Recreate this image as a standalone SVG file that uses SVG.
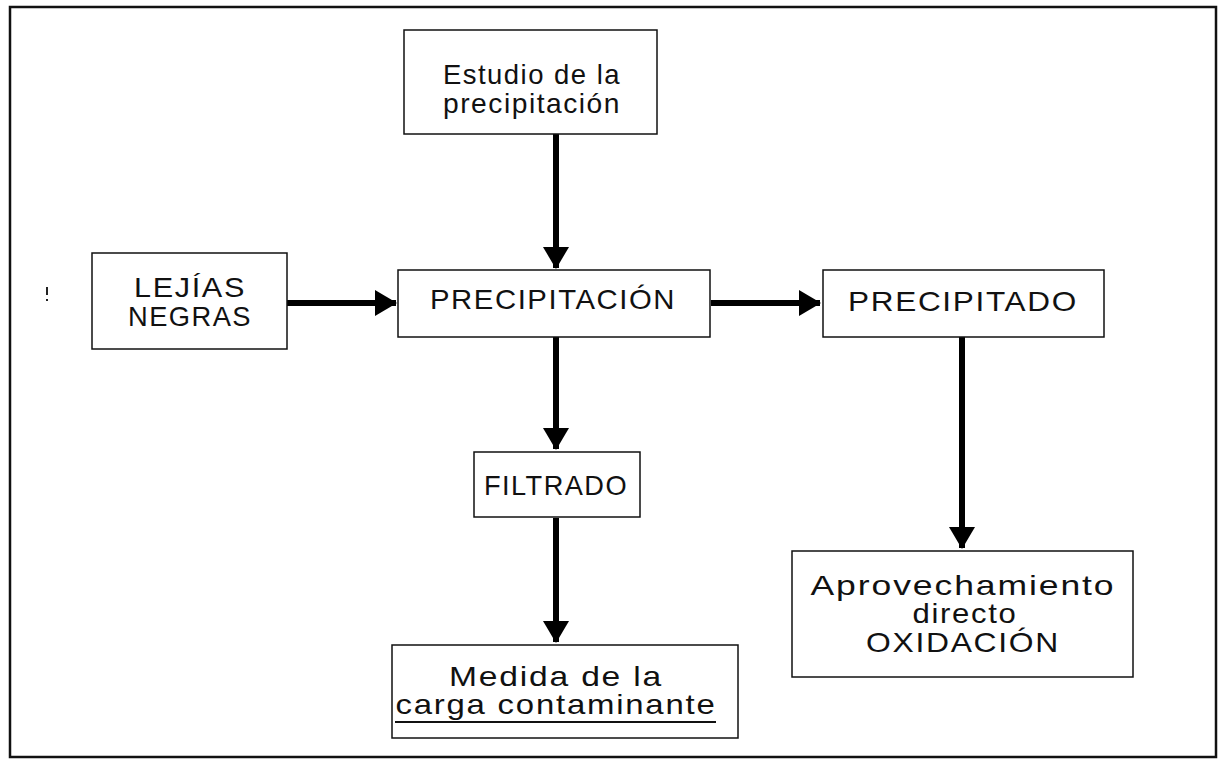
<svg xmlns="http://www.w3.org/2000/svg" width="1220" height="765" viewBox="0 0 1220 765">
<style>
.box{fill:#fff;stroke:#111;stroke-width:1.5}
.t{font-family:"Liberation Sans",Arial,sans-serif;font-size:28px;fill:#111;text-anchor:middle;letter-spacing:1.5px}
.conn{stroke:#000;stroke-width:6;fill:none}
</style>
<defs>
<marker id="ah" markerUnits="userSpaceOnUse" markerWidth="22" markerHeight="26" refX="21" refY="13" orient="auto">
<path d="M0,0 L22,13 L0,26 Z" fill="#000"/>
</marker>
</defs>
<rect x="0" y="0" width="1220" height="765" fill="#fff"/>
<rect x="10" y="7" width="1206" height="750" fill="none" stroke="#111" stroke-width="2.5"/>
<g id="mark"><rect x="46" y="287" width="2" height="8" fill="#222"/><rect x="46" y="299" width="2" height="2" fill="#222"/></g>

<g id="connectors">
<line class="conn" x1="556" y1="134" x2="556" y2="268" marker-end="url(#ah)"/>
<line class="conn" x1="287" y1="303" x2="396" y2="303" marker-end="url(#ah)"/>
<line class="conn" x1="711" y1="303" x2="820" y2="303" marker-end="url(#ah)"/>
<line class="conn" x1="556" y1="337" x2="556" y2="449" marker-end="url(#ah)"/>
<line class="conn" x1="556" y1="518" x2="556" y2="642" marker-end="url(#ah)"/>
<line class="conn" x1="962" y1="337" x2="962" y2="548" marker-end="url(#ah)"/>
</g>

<g id="estudio">
<rect class="box" x="404" y="30" width="253" height="104"/>
<text class="t" x="532" y="84" textLength="178" lengthAdjust="spacingAndGlyphs">Estudio de la</text>
<text class="t" x="532" y="113" textLength="178" lengthAdjust="spacingAndGlyphs">precipitación</text>
</g>
<g id="lejias">
<rect class="box" x="92" y="253" width="195" height="96"/>
<text class="t" x="190" y="297" textLength="112" lengthAdjust="spacingAndGlyphs">LEJÍAS</text>
<text class="t" x="190" y="326" textLength="124" lengthAdjust="spacingAndGlyphs">NEGRAS</text>
</g>
<g id="precipitacion">
<rect class="box" x="398" y="270" width="312" height="67"/>
<text class="t" x="553" y="309" textLength="246" lengthAdjust="spacingAndGlyphs">PRECIPITACIÓN</text>
</g>
<g id="precipitado">
<rect class="box" x="823" y="270" width="281" height="67"/>
<text class="t" x="963" y="311" textLength="230" lengthAdjust="spacingAndGlyphs">PRECIPITADO</text>
</g>
<g id="filtrado">
<rect class="box" x="474" y="452" width="166" height="65"/>
<text class="t" x="556" y="495" textLength="144" lengthAdjust="spacingAndGlyphs">FILTRADO</text>
</g>
<g id="aprovechamiento">
<rect class="box" x="792" y="551" width="341" height="126"/>
<text class="t" x="963" y="595" textLength="305" lengthAdjust="spacingAndGlyphs">Aprovechamiento</text>
<text class="t" x="965" y="623" textLength="105" lengthAdjust="spacingAndGlyphs">directo</text>
<text class="t" x="963" y="652" textLength="194" lengthAdjust="spacingAndGlyphs">OXIDACIÓN</text>
</g>
<g id="medida">
<rect class="box" x="392" y="645" width="346" height="93"/>
<text class="t" x="556" y="686" textLength="214" lengthAdjust="spacingAndGlyphs">Medida de la</text>
<text class="t" x="556" y="714" textLength="321" lengthAdjust="spacingAndGlyphs">carga contaminante</text>
<line x1="395" y1="722" x2="716" y2="722" stroke="#111" stroke-width="1.8"/>
</g>
</svg>
